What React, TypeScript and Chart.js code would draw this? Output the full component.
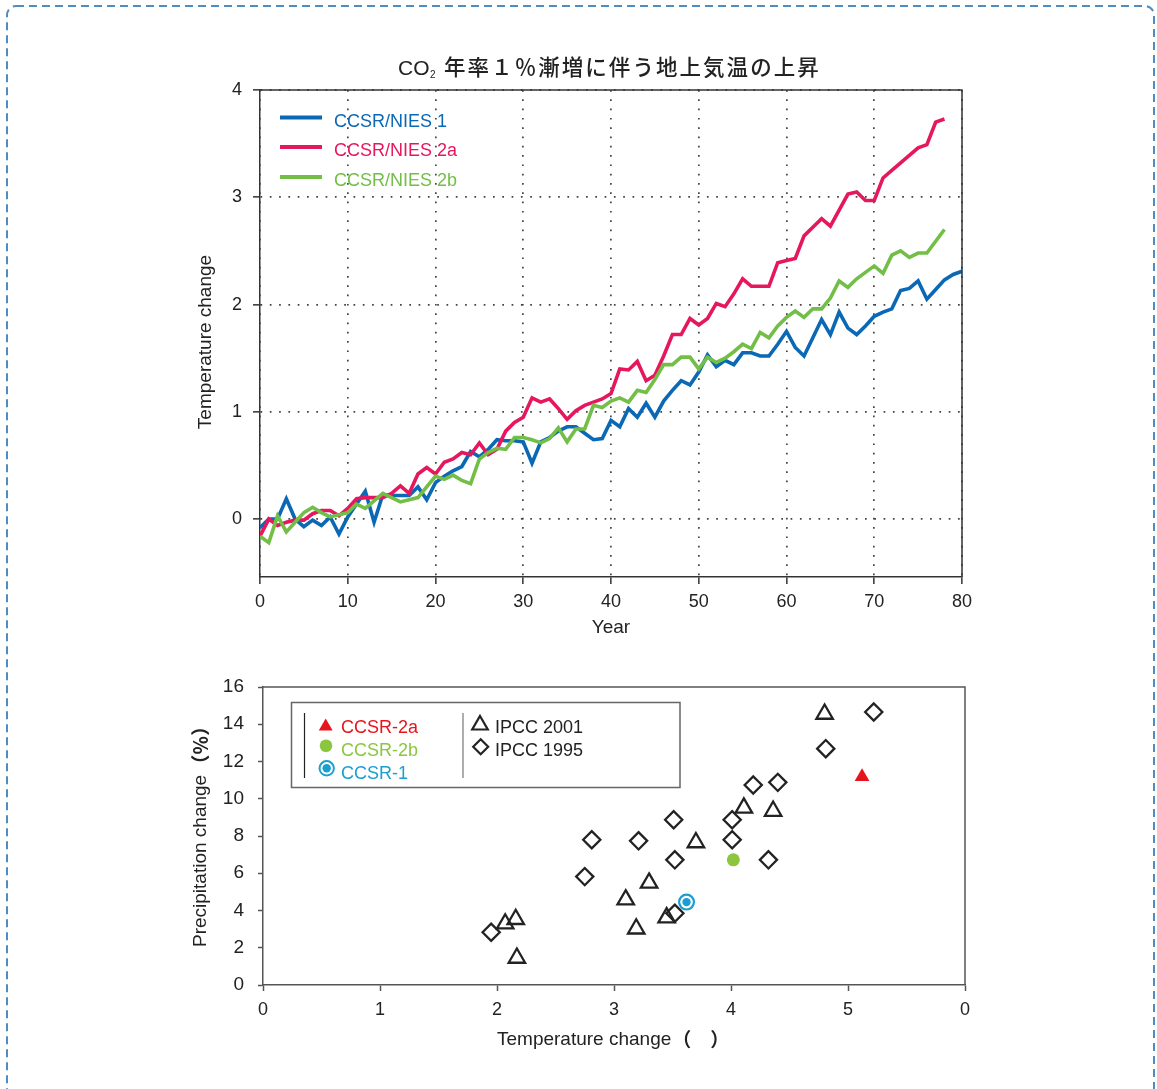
import React, { useEffect, useRef } from "react";
import { Chart, registerables } from "chart.js";

Chart.register(...registerables);

const FONT = '"Liberation Sans", Arial, "Noto Sans CJK JP", sans-serif';
const CJK = '"Noto Sans CJK JP", sans-serif';
const TEXT = "#222222";

// ---------- Top chart data ----------
const titleLatin = "CO";
const titleSub = "2";
const titleCJK = "年率１％漸増に伴う地上気温の上昇";
const seriesNames = ["CCSR/NIES 1", "CCSR/NIES 2a", "CCSR/NIES 2b"];
const seriesColors = ["#0a68b4", "#e5185f", "#72be46"];

const ccsr1Series = [
  -0.08, 0, 0, 0.19, 0, -0.07, -0.01, -0.06, 0.02, -0.14,
  0.02, 0.14, 0.26, -0.03, 0.23, 0.22, 0.22, 0.22, 0.3, 0.18,
  0.34, 0.4, 0.45, 0.49, 0.63, 0.58, 0.65, 0.74, 0.73, 0.73,
  0.72, 0.52, 0.72, 0.76, 0.82, 0.86, 0.86, 0.8, 0.74, 0.75,
  0.92, 0.86, 1.03, 0.95, 1.08, 0.95, 1.1, 1.2, 1.29, 1.25,
  1.37, 1.53, 1.42, 1.48, 1.44, 1.55, 1.55, 1.52, 1.52, 1.63,
  1.75, 1.6, 1.52, 1.69, 1.86, 1.72, 1.93, 1.78, 1.72, 1.8,
  1.89, 1.93, 1.96, 2.13, 2.15, 2.22, 2.05, 2.14, 2.23, 2.28, 2.31,
];
const ccsr2aSeries = [
  -0.16, 0, -0.06, -0.03, -0.01, -0.01, 0.05, 0.08, 0.08, 0.03,
  0.1, 0.19, 0.2, 0.2, 0.2, 0.24, 0.31, 0.24, 0.42, 0.48,
  0.42, 0.53, 0.56, 0.62, 0.6, 0.71, 0.6, 0.65, 0.82, 0.9,
  0.95, 1.13, 1.09, 1.12, 1.03, 0.93, 1.01, 1.06, 1.09, 1.12,
  1.17, 1.4, 1.39, 1.47, 1.29, 1.34, 1.52, 1.72, 1.72, 1.87,
  1.81, 1.87, 2.01, 1.98, 2.1, 2.24, 2.17, 2.17, 2.17, 2.39,
  2.41, 2.43, 2.64, 2.72, 2.8, 2.73, 2.88, 3.03, 3.05, 2.97,
  2.97, 3.18, 3.25, 3.32, 3.39, 3.46, 3.49, 3.7, 3.73,
];
const ccsr2bSeries = [
  -0.16, -0.22, 0.03, -0.12, -0.03, 0.06, 0.11, 0.06, 0.02, 0.04,
  0.06, 0.14, 0.1, 0.17, 0.24, 0.2, 0.16, 0.18, 0.2, 0.3,
  0.4, 0.37, 0.41, 0.36, 0.33, 0.56, 0.62, 0.66, 0.65, 0.76,
  0.76, 0.74, 0.71, 0.75, 0.85, 0.72, 0.84, 0.84, 1.06, 1.04,
  1.1, 1.13, 1.09, 1.2, 1.18, 1.3, 1.44, 1.44, 1.51, 1.51,
  1.4, 1.51, 1.46, 1.5, 1.56, 1.63, 1.59, 1.74, 1.69, 1.8,
  1.88, 1.94, 1.88, 1.96, 1.96, 2.06, 2.22, 2.16, 2.24, 2.3,
  2.36, 2.29, 2.46, 2.5, 2.44, 2.48, 2.48, 2.59, 2.7,
];
const topXTicks = [0, 10, 20, 30, 40, 50, 60, 70, 80];
const topYTicks = [0, 1, 2, 3, 4];
const topXTitle = "Year";
const topYTitle = "Temperature change";

// ---------- Bottom chart data ----------
const ipcc2001X = [2.07, 2.16, 2.17, 3.1, 3.19, 3.3, 3.45, 3.7, 4.11, 4.36, 4.8];
const ipcc2001Y = [3.29, 3.53, 1.45, 4.58, 3.02, 5.48, 3.62, 7.65, 9.51, 9.34, 14.55];
const ipcc1995X = [1.95, 2.75, 2.81, 3.21, 3.51, 3.52, 3.52, 4.01, 4.01, 4.19, 4.4, 4.32, 4.81, 5.22];
const ipcc1995Y = [2.83, 5.82, 7.8, 7.74, 8.87, 6.72, 3.85, 8.87, 7.8, 10.74, 10.88, 6.72, 12.69, 14.66];
const ccsr2aX = [5.12];
const ccsr2aY = [11.18];
const ccsr2bX = [4.02];
const ccsr2bY = [6.72];
const ccsr1X = [3.62];
const ccsr1Y = [4.45];
const botXTicks = [0, 1, 2, 3, 4, 5, 6];
const botXTickLabels = ["0", "1", "2", "3", "4", "5", "0"];
const botYTicks = [0, 2, 4, 6, 8, 10, 12, 14, 16];
const botXTitle = "Temperature change";
const botXTitleUnit = "（　）";
const botYTitle = "Precipitation change";
const botYTitleUnit = "（％）";
const botLegendLeft = ["CCSR-2a", "CCSR-2b", "CCSR-1"];
const botLegendRight = ["IPCC 2001", "IPCC 1995"];
const RED = "#e8141c";
const GREEN = "#8cc63f";
const CYAN = "#1a9fd0";

const toPoints = (xs: number[], ys: number[]) => xs.map((x, i) => ({ x, y: ys[i] }));
const indexPoints = (ys: number[]) => ys.map((y, i) => ({ x: i, y }));

function triPath(ctx: CanvasRenderingContext2D, x: number, y: number, r: number) {
  ctx.beginPath();
  for (let k = 0; k < 3; k++) {
    const a = (k * 2 * Math.PI) / 3;
    const px = x + Math.sin(a) * r;
    const py = y - Math.cos(a) * r;
    if (k === 0) ctx.moveTo(px, py);
    else ctx.lineTo(px, py);
  }
  ctx.closePath();
}

const topDeco = {
  id: "topDeco",
  afterDraw(chart: any) {
    const { ctx, chartArea: a } = chart;
    ctx.save();
    // frame (top & right)
    ctx.strokeStyle = "#333";
    ctx.lineWidth = 1.5;
    ctx.beginPath();
    ctx.moveTo(a.left, a.top);
    ctx.lineTo(a.right, a.top);
    ctx.lineTo(a.right, a.bottom);
    ctx.stroke();

    ctx.fillStyle = TEXT;
    // title
    ctx.textBaseline = "alphabetic";
    ctx.textAlign = "left";
    ctx.font = `21px ${FONT}`;
    ctx.fillText(titleLatin, 398, 74.5);
    ctx.font = `10px ${FONT}`;
    ctx.fillText(titleSub, 430, 78);
    ctx.font = `500 21.5px ${CJK}`;
    const chars = Array.from(titleCJK);
    chars.forEach((ch, i) => ctx.fillText(ch, 444 + i * 23.55, 75));

    // axis titles
    ctx.font = `19px ${FONT}`;
    ctx.textAlign = "center";
    ctx.textBaseline = "middle";
    ctx.fillText(topXTitle, (a.left + a.right) / 2, 628);
    ctx.save();
    ctx.translate(206, 342);
    ctx.rotate(-Math.PI / 2);
    ctx.fillText(topYTitle, 0, 0);
    ctx.restore();

    // legend
    ctx.font = `18px ${FONT}`;
    ctx.textAlign = "left";
    ctx.textBaseline = "middle";
    const rows = [117.5, 147, 177];
    seriesNames.forEach((name, i) => {
      ctx.strokeStyle = seriesColors[i];
      ctx.lineWidth = 4;
      ctx.beginPath();
      ctx.moveTo(280, rows[i]);
      ctx.lineTo(322, rows[i]);
      ctx.stroke();
      ctx.fillStyle = seriesColors[i];
      ctx.fillText(name, 334, rows[i] + 4.5);
    });
    ctx.restore();
  },
};

const botDeco = {
  id: "botDeco",
  afterDraw(chart: any) {
    const { ctx, chartArea: a } = chart;
    const oy = -660; // canvas top in page coordinates
    ctx.save();
    ctx.strokeStyle = "#555";
    ctx.lineWidth = 1.5;
    ctx.beginPath();
    ctx.moveTo(a.left, a.top);
    ctx.lineTo(a.right, a.top);
    ctx.lineTo(a.right, a.bottom);
    ctx.stroke();

    // legend box
    ctx.strokeStyle = "#666";
    ctx.lineWidth = 1.5;
    ctx.strokeRect(291.5, 702.5 + oy, 388.5, 85);
    ctx.strokeStyle = "#222";
    ctx.lineWidth = 1.2;
    ctx.beginPath();
    ctx.moveTo(304.5, 713 + oy);
    ctx.lineTo(304.5, 778 + oy);
    ctx.stroke();
    ctx.strokeStyle = "#777";
    ctx.beginPath();
    ctx.moveTo(463, 713 + oy);
    ctx.lineTo(463, 778 + oy);
    ctx.stroke();

    // symbols
    ctx.fillStyle = RED;
    triPath(ctx, 325.7, 726.5 + oy, 8);
    ctx.fill();
    ctx.fillStyle = GREEN;
    ctx.beginPath();
    ctx.arc(326, 745.7 + oy, 6.3, 0, Math.PI * 2);
    ctx.fill();
    ctx.strokeStyle = CYAN;
    ctx.lineWidth = 2;
    ctx.beginPath();
    ctx.arc(326.7, 768.3 + oy, 7.2, 0, Math.PI * 2);
    ctx.stroke();
    ctx.fillStyle = CYAN;
    ctx.beginPath();
    ctx.arc(326.7, 768.3 + oy, 4.2, 0, Math.PI * 2);
    ctx.fill();

    ctx.strokeStyle = "#222";
    ctx.lineWidth = 2.2;
    triPath(ctx, 480, 725 + oy, 9);
    ctx.stroke();
    ctx.beginPath();
    const dr = 7.5;
    ctx.moveTo(480.7 - dr, 746.7 + oy);
    ctx.lineTo(480.7, 746.7 - dr + oy);
    ctx.lineTo(480.7 + dr, 746.7 + oy);
    ctx.lineTo(480.7, 746.7 + dr + oy);
    ctx.closePath();
    ctx.stroke();

    // legend texts
    ctx.font = `18px ${FONT}`;
    ctx.textAlign = "left";
    ctx.textBaseline = "middle";
    const lc = [RED, GREEN, CYAN];
    const ly = [728, 751, 774];
    botLegendLeft.forEach((t, i) => {
      ctx.fillStyle = lc[i];
      ctx.fillText(t, 341, ly[i] + oy);
    });
    ctx.fillStyle = TEXT;
    botLegendRight.forEach((t, i) => {
      ctx.fillText(t, 495, ly[i] + oy);
    });

    // axis titles
    ctx.fillStyle = TEXT;
    ctx.textAlign = "left";
    ctx.font = `19px ${FONT}`;
    ctx.fillText(botXTitle, 497, 1040 + oy);
    const w1 = ctx.measureText(botXTitle).width;
    ctx.font = `bold 19px ${CJK}`;
    ctx.fillText(botXTitleUnit, 497 + w1 + 1, 1040 + oy);

    ctx.save();
    ctx.translate(201, 947 + oy);
    ctx.rotate(-Math.PI / 2);
    ctx.font = `19px ${FONT}`;
    ctx.fillText(botYTitle, 0, 0);
    const w2 = ctx.measureText(botYTitle).width;
    ctx.font = `bold 19px ${CJK}`;
    ctx.fillText(botYTitleUnit, w2 + 1, 0);
    ctx.restore();
    ctx.restore();
  },
};

export default function App() {
  const topRef = useRef<HTMLCanvasElement>(null);
  const botRef = useRef<HTMLCanvasElement>(null);

  useEffect(() => {
    Chart.defaults.font.family = FONT;
    const tickFont = { size: 18, family: FONT };

    const top = new Chart(topRef.current as HTMLCanvasElement, {
      type: "line",
      data: {
        datasets: [
          { label: seriesNames[2], data: indexPoints(ccsr2bSeries), borderColor: seriesColors[2] },
          { label: seriesNames[1], data: indexPoints(ccsr2aSeries), borderColor: seriesColors[1] },
          { label: seriesNames[0], data: indexPoints(ccsr1Series), borderColor: seriesColors[0] },
        ].map((d) => ({ ...d, borderWidth: 3.6, pointRadius: 0, tension: 0, fill: false })),
      },
      options: {
        responsive: false,
        animation: false,
        devicePixelRatio: 1,
        layout: { padding: { top: 90, right: 195, left: 0, bottom: 0 } },
        plugins: { legend: { display: false }, title: { display: false }, tooltip: { enabled: false } },
        scales: {
          x: {
            type: "linear",
            min: 0,
            max: 80,
            afterBuildTicks: (s: any) => { s.ticks = topXTicks.map((v) => ({ value: v })); },
            afterFit: (s: any) => { s.height = 83; },
            grid: { color: "#444", lineWidth: 1.7, tickLength: 7, tickColor: "#333", tickWidth: 1.5, tickBorderDash: [] } as any,
            border: { display: true, color: "#333", width: 1.5, dash: [1.7, 7.6] },
            ticks: { font: tickFont, color: TEXT, padding: 7, maxRotation: 0, autoSkip: false, callback: (v: any) => String(v) },
          },
          y: {
            type: "linear",
            min: -0.54,
            max: 4,
            afterBuildTicks: (s: any) => { s.ticks = topYTicks.map((v) => ({ value: v })); },
            afterFit: (s: any) => { s.width = 260; },
            grid: { color: "#444", lineWidth: 1.7, tickLength: 7, tickColor: "#333", tickWidth: 1.5, tickBorderDash: [] } as any,
            border: { display: true, color: "#333", width: 1.5, dash: [1.7, 7.6] },
            ticks: { font: tickFont, color: TEXT, padding: 11, callback: (v: any) => String(v) },
          },
        },
      },
      plugins: [topDeco],
    } as any);

    const pointDs = (label: string, xs: number[], ys: number[], extra: any) => ({
      label,
      data: toPoints(xs, ys),
      showLine: false,
      ...extra,
    });

    const bot = new Chart(botRef.current as HTMLCanvasElement, {
      type: "scatter",
      data: {
        datasets: [
          pointDs("CCSR-2a", ccsr2aX, ccsr2aY, { pointStyle: "triangle", pointRadius: 8.5, backgroundColor: RED, borderColor: RED, borderWidth: 0 }),
          pointDs("CCSR-2b", ccsr2bX, ccsr2bY, { pointStyle: "circle", pointRadius: 6.5, backgroundColor: GREEN, borderColor: GREEN, borderWidth: 0 }),
          pointDs("CCSR-1", ccsr1X, ccsr1Y, { pointStyle: "circle", pointRadius: 4.2, backgroundColor: CYAN, borderColor: CYAN, borderWidth: 0 }),
          pointDs("CCSR-1 ring", ccsr1X, ccsr1Y, { pointStyle: "circle", pointRadius: 7.4, backgroundColor: "#ffffff", borderColor: CYAN, borderWidth: 2.2 }),
          pointDs("IPCC 2001", ipcc2001X, ipcc2001Y, { pointStyle: "triangle", pointRadius: 9.5, backgroundColor: "rgba(255,255,255,0)", borderColor: "#222", borderWidth: 2.3 }),
          pointDs("IPCC 1995", ipcc1995X, ipcc1995Y, { pointStyle: "rectRot", pointRadius: 8.6, backgroundColor: "rgba(255,255,255,0)", borderColor: "#222", borderWidth: 2.3 }),
        ],
      },
      options: {
        responsive: false,
        animation: false,
        devicePixelRatio: 1,
        layout: { padding: { top: 27, right: 192, left: 0, bottom: 0 } },
        plugins: { legend: { display: false }, title: { display: false }, tooltip: { enabled: false } },
        scales: {
          x: {
            type: "linear",
            min: 0,
            max: 6,
            afterBuildTicks: (s: any) => { s.ticks = botXTicks.map((v) => ({ value: v })); },
            afterFit: (s: any) => { s.height = 104; },
            grid: { drawOnChartArea: false, color: "#555", tickLength: 6, tickWidth: 1.5, tickColor: "#555" },
            border: { display: true, color: "#555", width: 1.5 },
            ticks: { font: tickFont, color: TEXT, padding: 8, maxRotation: 0, autoSkip: false, callback: (_v: any, i: number) => botXTickLabels[i] },
          },
          y: {
            type: "linear",
            min: 0,
            max: 16,
            afterBuildTicks: (s: any) => { s.ticks = botYTicks.map((v) => ({ value: v })); },
            afterFit: (s: any) => { s.width = 263; },
            grid: { drawOnChartArea: false, color: "#555", tickLength: 5, tickWidth: 1.5, tickColor: "#555" },
            border: { display: true, color: "#555", width: 1.5 },
            ticks: { font: { size: 19, family: FONT }, color: TEXT, padding: 14, callback: (v: any) => String(v) },
          },
        },
      },
      plugins: [botDeco],
    } as any);

    return () => {
      top.destroy();
      bot.destroy();
    };
  }, []);

  return (
    <div style={{ position: "absolute", left: 0, top: 0, width: 1157, height: 1089, background: "#ffffff", overflow: "hidden" }}>
      <svg width={1157} height={1089} style={{ position: "absolute", left: 0, top: 0 }}>
        <rect x={7} y={6} width={1147} height={1092} rx={9} ry={9} fill="none" stroke="#4f8cc2" strokeWidth={2} strokeDasharray="8 5" />
      </svg>
      <canvas ref={topRef} width={1157} height={660} style={{ position: "absolute", left: 0, top: 0, width: 1157, height: 660 }} />
      <canvas ref={botRef} width={1157} height={429} style={{ position: "absolute", left: 0, top: 660, width: 1157, height: 429 }} />
    </div>
  );
}
